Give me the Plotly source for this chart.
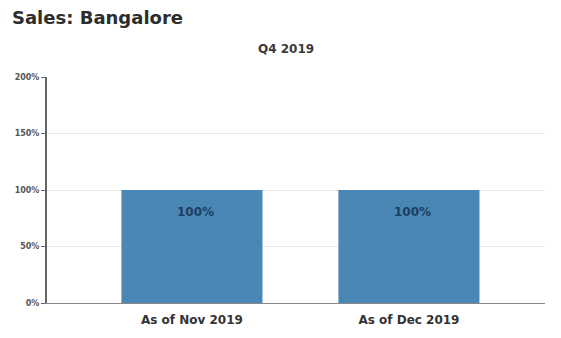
import plotly.graph_objects as go

categories = ["As of Nov 2019", "As of Dec 2019"]
values = [100, 100]
value_labels = ["100%", "100%"]
y_ticks = [0, 50, 100, 150, 200]
y_tick_labels = ["0%", "50%", "100%", "150%", "200%"]

fig = go.Figure(
    go.Bar(
        x=[0, 1],
        y=values,
        width=0.65,
        marker=dict(color="#4a87b4", line=dict(width=0)),
        hoverinfo="skip",
    )
)

fig.update_layout(
    width=561,
    height=338,
    margin=dict(l=47, r=16, t=77, b=35),
    paper_bgcolor="white",
    plot_bgcolor="white",
    showlegend=False,
)

# value labels sit just below the top of each bar
for i, (v, lab) in enumerate(zip(values, value_labels)):
    fig.add_annotation(x=i, y=v, text=f"<b>{lab}</b>", showarrow=False,
                       yanchor="middle", yshift=-22, xshift=4,
                       font=dict(family="DejaVu Sans", size=12, color="#1d3d63"))

fig.add_annotation(text="<b>Sales: Bangalore</b>", xref="paper", yref="paper",
                   x=-0.075, y=1.265, xanchor="left", yanchor="middle", showarrow=False,
                   font=dict(family="DejaVu Sans", size=18, color="#2d2d2d"))
fig.add_annotation(text="<b>Q4 2019</b>", xref="paper", yref="paper",
                   x=0.48, y=1.125, xanchor="center", yanchor="middle", showarrow=False,
                   font=dict(family="DejaVu Sans", size=12, color="#3a3a3a"))

fig.update_xaxes(
    range=[-0.668, 1.627],
    tickvals=[0, 1],
    ticktext=[f"<b>{c}</b>" for c in categories],
    tickfont=dict(family="DejaVu Sans", size=12, color="#333333"),
    showline=True, linecolor="#888888", linewidth=1,
    showgrid=False, ticks="outside", ticklen=6, tickcolor="rgba(0,0,0,0)",
    zeroline=False,
)
fig.update_yaxes(
    range=[0, 200],
    tickvals=y_ticks,
    ticktext=[f"<b>{t}</b>" for t in y_tick_labels],
    tickfont=dict(family="DejaVu Sans", size=8, color="#555555"),
    showline=True, linecolor="#666666", linewidth=2,
    showgrid=True, gridcolor="#e6e6e6", gridwidth=1,
    ticks="outside", ticklen=4, tickcolor="#666666",
    zeroline=False,
)

fig.write_html("out.html")
